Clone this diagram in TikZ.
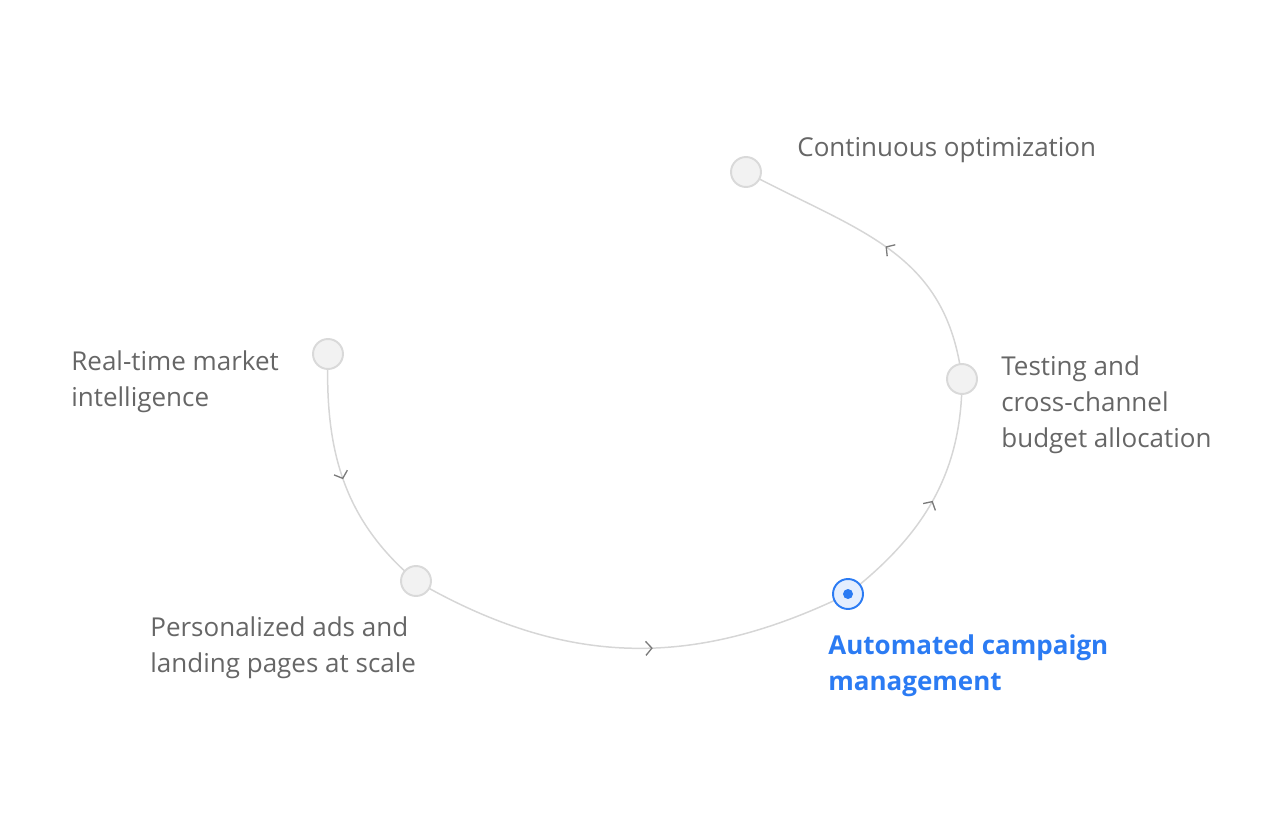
\documentclass[tikz,border=0pt]{standalone}
\usepackage{fontspec}
\setmainfont{Open Sans}
\usetikzlibrary{arrows.meta,decorations.markings}
\definecolor{linegray}{HTML}{D6D6D6}
\definecolor{tipgray}{HTML}{7A7A7A}
\definecolor{textgray}{HTML}{666666}
\definecolor{stepfill}{HTML}{F2F2F2}
\definecolor{stepdraw}{HTML}{D9D9D9}
\definecolor{activeblue}{HTML}{2B7BF3}
\definecolor{activefill}{HTML}{E4EEFE}
\begin{document}
\begin{tikzpicture}[x=0.02cm, y=0.02cm,
    stage/.style={circle, draw=stepdraw, fill=stepfill, line width=1.1pt,
                  minimum size=0.6cm, inner sep=0pt},
    current/.style={circle, draw=activeblue, fill=activefill, line width=1.1pt,
                  minimum size=0.6cm, inner sep=0pt},
    caption/.style={anchor=west, align=left, text=textgray,
                  font=\fontsize{14.8}{20.4}\selectfont, inner sep=0pt},
    link/.style={draw=linegray, line width=0.85pt, postaction={decorate},
                  decoration={markings, mark=at position #1 with
                  {\arrow[tipgray, line width=0.75pt]{Straight Barb[length=3.5pt, width=8pt]}}}}]
  \useasboundingbox (0,0) rectangle (1282,-828);
  \coordinate (rt) at (328,-354);
  \coordinate (pa) at (416,-581);
  \coordinate (ac) at (848,-594);
  \coordinate (tb) at (962,-379);
  \coordinate (co) at (746,-172);
  % loop
  \draw[link=0.5]  (rt) to[out=-92, in=140] (pa);
  \draw[link=0.55] (pa) to[out=-30, in=-154, looseness=1.02] (ac);
  \draw[link=0.5]  (ac) to[out=38, in=-90] (tb);
  \draw[link=0.5]  (tb) to[out=97, in=-28, looseness=1.1] (co);
  % stages
  \node[stage] (rtn) at (rt) {};
  \node[stage] (pan) at (pa) {};
  \node[current] (acn) at (ac) {};
  \fill[activeblue] (acn) circle (0.1cm);
  \node[stage] (tbn) at (tb) {};
  \node[stage] (con) at (co) {};
  % labels
  \node[caption] (rtl) at (71,-382) {Real-time market\\intelligence};
  \node[caption] (pal) at (150,-648) {Personalized ads and\\landing pages at scale};
  \node[caption, text=activeblue, font=\fontsize{14.8}{20.4}\selectfont\bfseries]
    (acl) at (828,-666) {Automated campaign\\management};
  \node[caption] (tbl) at (1001,-405) {Testing and\\cross-channel\\budget allocation};
  \node[caption] (col) at (797,-150) {Continuous optimization};
\end{tikzpicture}
\end{document}
